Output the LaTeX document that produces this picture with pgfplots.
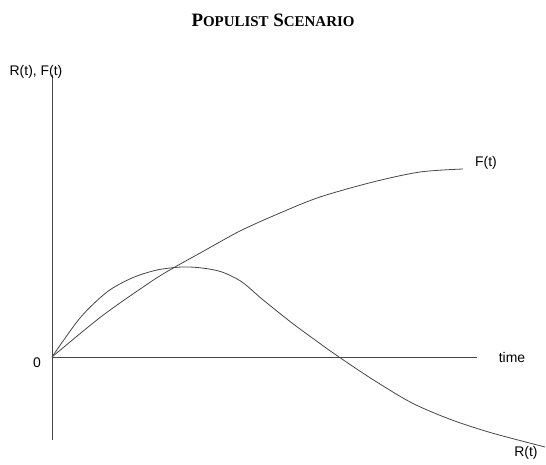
\documentclass[border=0pt]{standalone}
\usepackage{fontspec}
\setmainfont{Liberation Serif}
\setsansfont{Liberation Sans}
\usepackage{pgfplots}
\pgfplotsset{compat=1.18}

% offsets in px from the origin of the sketch
\pgfplotstableread{
x y
0 0
50 41
100 76
123 90
150 105
188 126
228 144
268 160
321 175
368 185
411 188
}\Fcurve

\pgfplotstableread{
x y
0 0
28 39
55 65
80 79
105 87
130 90
150 89
170 85
190 75
210 58
240 34
270 12
287 0
320 -22
360 -46
400 -63
440 -76
493 -90
}\Rcurve

\begin{document}
\begin{tikzpicture}
\begin{axis}[
  scale only axis, width=546bp, height=465bp,
  xmin=-52, xmax=494, ymin=-108, ymax=357,
  hide axis, clip=false,
  every axis plot/.append style={line width=0.8bp, color=black!72},
]
% keep the full frame in the bounding box
\addplot[draw=none, no marks] coordinates {(-52,-108) (494,357)};
% axes of the sketch
\addplot[no marks] coordinates {(0,282) (0,-83)};
\addplot[no marks] coordinates {(0,0) (425,0)};
% curves
\addplot[no marks, smooth] table[x=x,y=y] {\Fcurve};
\addplot[no marks, smooth] table[x=x,y=y] {\Rcurve};

\node[font=\fontsize{19}{22}\selectfont\bfseries] at (axis cs:221,337)
  {P{\fontsize{15}{18}\selectfont OPULIST} S{\fontsize{15}{18}\selectfont CENARIO}};
\node[font=\sffamily\fontsize{14}{16}\selectfont] at (axis cs:-16,285) {R(t), F(t)};
\node[font=\sffamily\fontsize{14}{16}\selectfont] at (axis cs:-15,-6) {0};
\node[font=\sffamily\fontsize{14}{16}\selectfont] at (axis cs:460,-1) {time};
\node[font=\sffamily\fontsize{14}{16}\selectfont] at (axis cs:434,194) {F(t)};
\node[font=\sffamily\fontsize{14}{16}\selectfont] at (axis cs:474,-96) {R(t)};
\end{axis}
\end{tikzpicture}
\end{document}
